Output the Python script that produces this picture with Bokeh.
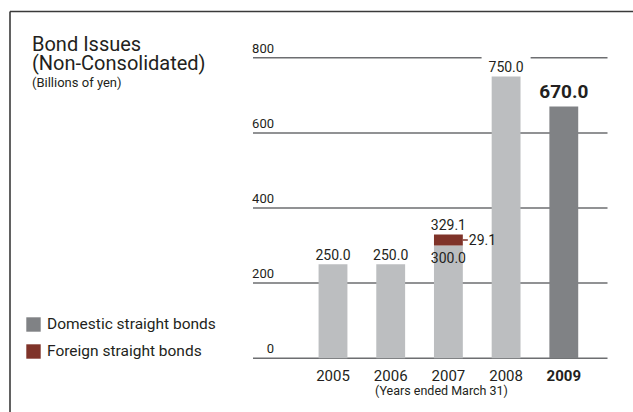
from bokeh.plotting import figure
from bokeh.models import ColumnDataSource, Range1d, Legend, LegendItem
from bokeh.core.properties import value
from bokeh.embed import file_html
from bokeh.resources import INLINE

# ---- data ----
years = ["2005", "2006", "2007", "2008", "2009"]
domestic = [250.0, 250.0, 300.0, 750.0, 670.0]
foreign = [0.0, 0.0, 29.1, 0.0, 0.0]
y_ticks = [0, 200, 400, 600, 800]
title_lines = ["Bond Issues", "(Non-Consolidated)"]
unit_label = "(Billions of yen)"
x_caption = "(Years ended March 31)"
series_names = ["Domestic straight bonds", "Foreign straight bonds"]

FONT = "Roboto"
TXT = "#231f20"
LIGHT = "#bcbec0"
DARK = "#808285"
RED = "#7f3329"
GRID = "#6d6e71"

# ---- page geometry (pixel -> data mapping) ----
W, H = 633, 412
OFF = 0
X0, DX = 332.5, 57.7          # page px of first bar centre, px per category
Y0, DY = 357.7, 75.1 / 200.0  # page px of zero line, px per unit


def fx(px):
    return (px - X0) / DX


def fy(py):
    return (Y0 - py) / DY


def bl(size):
    # baseline correction (screen px) for alphabetic text of a given size
    return -0.35 * size


n = len(years)
xs = list(range(n))
hi = n - 1  # latest year highlighted
totals = [d + f for d, f in zip(domestic, foreign)]

p = figure(width=W, height=H, output_backend="svg", toolbar_location=None,
           x_range=Range1d(fx(OFF), fx(OFF + W)),
           y_range=Range1d(fy(OFF + H), fy(OFF)),
           x_axis_location=None, y_axis_location=None, min_border=0)
p.grid.visible = False
p.outline_line_color = None
p.background_fill_color = "white"
p.border_fill_color = "white"

# outer frame (left and top edges)
p.segment(x0=[fx(9.5), fx(9.5)], y0=[fy(11), fy(11)],
          x1=[fx(9.5), fx(OFF + W + 5)], y1=[fy(OFF + H + 5), fy(11)],
          line_color="#3a3a3a", line_width=1.6)

# horizontal grid lines at tick values
p.segment(x0=fx(252.5), x1=fx(607), y0=y_ticks, y1=y_ticks,
          line_color=GRID, line_width=1.5)

# white gap in the top grid line around the tallest bar's label
imax = totals.index(max(totals))
p.quad(left=[imax - 0.425], right=[imax + 0.425],
       bottom=[max(y_ticks) - 12], top=[max(y_ticks) + 12],
       fill_color="white", line_color=None)

# y tick labels, above the grid lines
p.text(x=[fx(273.5)] * len(y_ticks), y=y_ticks, text=[str(t) for t in y_ticks],
       text_align="right", text_baseline="alphabetic", y_offset=-5 + bl(13),
       text_font=value(FONT), text_font_size="13px", text_color=TXT)

src = ColumnDataSource(dict(
    x=xs, dom=domestic, tot=totals,
    col=[DARK if i == hi else LIGHT for i in xs],
    lab=["%.1f" % t for t in totals],
    year=years,
    fsize=["19px" if i == hi else "14px" for i in xs],
    fstyle=["bold" if i == hi else "normal" for i in xs],
    yoff=[(-8 + bl(19)) if i == hi else (-5 + bl(14)) for i in xs],
))

r_dom = p.vbar(x="x", bottom=0, top="dom", width=0.5, fill_color="col",
               line_color=None, source=src)
r_for = p.vbar(x="x", bottom="dom", top="tot", width=0.5, fill_color=RED,
               line_color=None, source=src)

# value labels on top
p.text(x="x", y="tot", text="lab", source=src, text_align="center",
       text_baseline="alphabetic", y_offset="yoff",
       text_font=value(FONT), text_font_size="fsize", text_font_style="fstyle",
       text_color=TXT)

# breakdown labels for stacked bars
sx = [i for i in xs if foreign[i] > 0]
bsrc = ColumnDataSource(dict(
    x=sx,
    dom=[domestic[i] for i in sx],
    mid=[domestic[i] + foreign[i] / 2 for i in sx],
    xr=[i + 0.25 for i in sx],
    xl=[i + 0.25 + 5 / DX for i in sx],
    dlab=["%.1f" % domestic[i] for i in sx],
    flab=["%.1f" % foreign[i] for i in sx],
))
p.text(x="x", y="dom", text="dlab", source=bsrc, text_align="center",
       text_baseline="alphabetic", y_offset=17 + bl(14),
       text_font=value(FONT), text_font_size="14px", text_color=TXT)
p.segment(x0="xr", x1="xl", y0="mid", y1="mid", source=bsrc,
          line_color=RED, line_width=1.5)
p.text(x="xl", y="mid", text="flab", source=bsrc, text_align="left",
       text_baseline="middle", x_offset=1, y_offset=-1,
       text_font=value(FONT), text_font_size="14px", text_color=TXT)

# category labels
p.text(x="x", y=fy(380.5), text="year", source=src, text_align="center",
       text_baseline="alphabetic", y_offset=bl(15),
       text_font=value(FONT), text_font_size="15px",
       text_font_style="fstyle", text_color=TXT)
p.text(x=[fx(441)], y=[fy(394.5)], text=[x_caption], text_align="center",
       text_baseline="alphabetic", y_offset=bl(12.5),
       text_font=value(FONT), text_font_size="12.5px", text_color=TXT)

# titles
p.text(x=[fx(31.5)] * 2, y=[fy(50), fy(69)], text=title_lines,
       text_align="left", text_baseline="alphabetic", y_offset=bl(20),
       text_font=value(FONT), text_font_size="20px", text_color=TXT)
p.text(x=[fx(31.5)], y=[fy(86.5)], text=[unit_label],
       text_align="left", text_baseline="alphabetic", y_offset=bl(13),
       text_font=value(FONT), text_font_size="13px", text_color=TXT)

# legend
legend = Legend(items=[
    LegendItem(label=series_names[0], renderers=[r_dom], index=hi),
    LegendItem(label=series_names[1], renderers=[r_for], index=sx[0]),
], location=(24, 52), orientation="vertical",
    glyph_width=18, glyph_height=18, label_standoff=5, spacing=9,
    padding=0, margin=0, border_line_color=None, background_fill_alpha=0,
    label_text_font=FONT, label_text_font_size="15.5px", label_text_color=TXT)
p.add_layout(legend)

open("out.html", "w").write(file_html(p, INLINE))
